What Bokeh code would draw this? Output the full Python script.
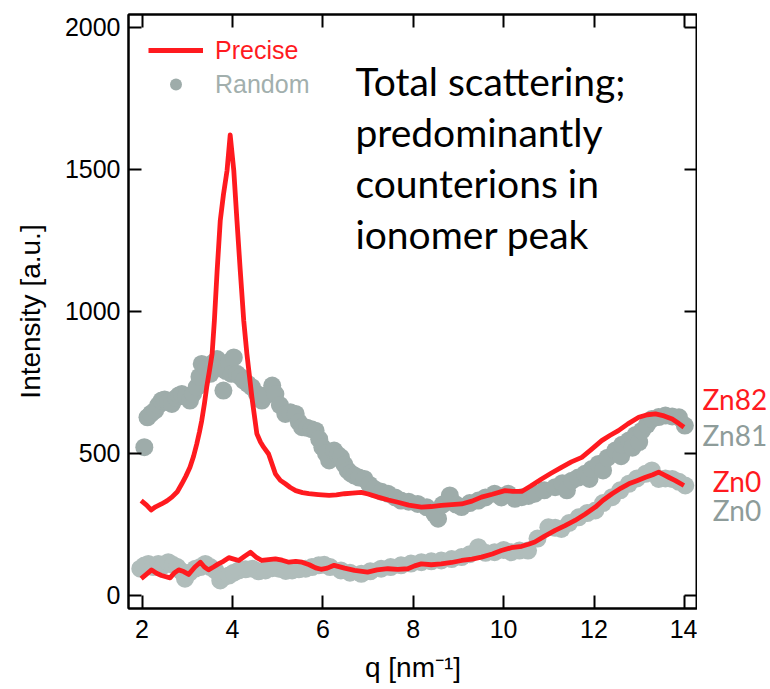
from bokeh.plotting import figure
from bokeh.models import Range1d, LinearAxis, FixedTicker, Legend, LegendItem, Label
from bokeh.layouts import row
from bokeh.embed import file_html
from bokeh.resources import INLINE

# ---------------- data ----------------
precise_zn82_q = [1.98, 2.1, 2.2, 2.3, 2.43, 2.55, 2.66, 2.78, 2.88, 2.97, 3.06, 3.14, 3.21, 3.27, 3.32,
                  3.38, 3.43, 3.49, 3.55, 3.6, 3.66, 3.73, 3.8, 3.88, 3.95, 4.03, 4.10, 4.17, 4.25, 4.32,
                  4.43, 4.54, 4.62, 4.69, 4.80, 4.95, 5.06, 5.17, 5.28, 5.40, 5.55, 5.69, 5.9, 6.14, 6.3,
                  6.48, 6.65, 6.85, 7.0, 7.22, 7.45, 7.66, 7.9, 8.18, 8.4, 8.62, 8.85, 9.07, 9.3, 9.51,
                  9.75, 10.03, 10.2, 10.40, 10.6, 10.84, 11.05, 11.28, 11.5, 11.73, 11.95, 12.17, 12.35,
                  12.54, 12.75, 12.99, 13.18, 13.36, 13.55, 13.73, 13.88, 13.99]
precise_zn82_i = [334, 318, 301, 312, 322, 333, 346, 365, 393, 420, 451, 490, 533, 575, 615,
                  675, 733, 790, 850, 967, 1140, 1319, 1410, 1495, 1621, 1495, 1319, 1150, 967, 850,
                  698, 569, 540, 522, 498, 428, 405, 393, 380, 369, 362, 358, 355, 352, 354,
                  358, 360, 363, 357, 346, 336, 328, 318, 311, 313, 317, 320, 322, 332, 346,
                  356, 369, 366, 366, 385, 410, 430, 451, 470, 486, 515, 545, 563,
                  580, 604, 627, 636, 639, 632, 621, 605, 592]

precise_zn0_q = [1.98, 2.1, 2.21, 2.32, 2.43, 2.62, 2.72, 2.81, 2.92, 3.03, 3.17, 3.29, 3.38, 3.47, 3.58,
                 3.69, 3.8, 3.92, 4.03, 4.14, 4.27, 4.40, 4.52, 4.65, 4.8, 4.95, 5.1, 5.25, 5.4, 5.54,
                 5.7, 5.84, 5.96, 6.1, 6.25, 6.48, 6.70, 6.99, 7.2, 7.44, 7.66, 7.88, 8.03, 8.18, 8.4,
                 8.62, 8.85, 9.07, 9.3, 9.51, 9.75, 9.95, 10.17, 10.40, 10.55, 10.69, 10.9, 11.14, 11.36,
                 11.58, 11.8, 12.03, 12.2, 12.40, 12.6, 12.77, 12.95, 13.14, 13.3, 13.43, 13.55, 13.65,
                 13.8, 13.99]
precise_zn0_i = [59, 75, 90, 78, 70, 62, 80, 90, 84, 74, 100, 117, 100, 90, 100,
                 111, 120, 133, 128, 123, 138, 152, 135, 123, 126, 129, 124, 117, 120, 117,
                 108, 97, 92, 96, 106, 96, 88, 82, 90, 94, 92, 94, 104, 111, 108,
                 111, 116, 123, 128, 135, 146, 158, 168, 173, 180, 188, 208, 229, 246,
                 264, 286, 311, 335, 358, 378, 393, 404, 416, 425, 434, 424, 416,
                 404, 387]

random_zn81_q = [2.05, 2.12, 2.2, 2.29, 2.36, 2.43, 2.5, 2.58, 2.66, 2.75, 2.82, 2.88, 2.97, 3.06, 3.13,
                 3.21, 3.27, 3.32, 3.42, 3.51, 3.58, 3.66, 3.73, 3.80, 3.86, 3.92, 3.98, 4.03, 4.10, 4.17,
                 4.25, 4.34, 4.43, 4.54, 4.65, 4.75, 4.88, 4.95, 5.05, 5.17, 5.28, 5.40, 5.47, 5.54, 5.65,
                 5.75, 5.84, 5.92, 5.99, 6.07, 6.14, 6.25, 6.33, 6.40, 6.48, 6.55, 6.62, 6.70, 6.8, 6.92,
                 7.03, 7.14, 7.3, 7.44, 7.6, 7.73, 7.9, 8.10, 8.3, 8.47, 8.55, 8.65, 8.81, 8.95, 9.07,
                 9.25, 9.44, 9.6, 9.80, 9.95, 10.10, 10.25, 10.40, 10.55, 10.69, 10.9, 11.14, 11.3, 11.4,
                 11.51, 11.65, 11.80, 11.9, 11.95, 12.10, 12.2, 12.3, 12.47, 12.6, 12.62, 12.77, 12.85,
                 12.92, 13.0, 13.06, 13.17, 13.28, 13.43, 13.58, 13.73, 13.88, 14.01]
random_zn81_i = [522, 627, 640, 651, 670, 686, 690, 680, 674, 695, 705, 709, 700, 686, 710,
                 733, 770, 815, 800, 780, 820, 832, 800, 721, 790, 821, 780, 838, 780, 770,
                 756, 745, 733, 710, 686, 705, 739, 709, 670, 639, 645, 639, 610, 592, 590,
                 585, 580, 550, 522, 500, 475, 510, 495, 486, 460, 440, 430, 422, 415, 410,
                 390, 375, 365, 358, 345, 334, 330, 322, 310, 287, 270, 320, 352, 320, 311,
                 325, 334, 345, 358, 345, 358, 340, 346, 350, 358, 370, 381, 395, 370,
                 404, 415, 428, 410, 445, 463, 440, 485, 510, 490, 530, 545, 520,
                 565, 540, 580, 600, 621, 628, 633, 630, 627, 598]

random_zn0_q = [1.96, 2.05, 2.14, 2.25, 2.36, 2.47, 2.58, 2.68, 2.78, 2.87, 2.95, 3.05, 3.18, 3.29, 3.40,
                3.51, 3.62, 3.73, 3.82, 3.92, 4.03, 4.14, 4.29, 4.44, 4.58, 4.73, 4.88, 5.03, 5.18, 5.32,
                5.47, 5.62, 5.76, 5.91, 6.03, 6.16, 6.40, 6.6, 6.85, 7.05, 7.29, 7.5, 7.73, 7.95, 8.18,
                8.4, 8.62, 8.85, 9.07, 9.25, 9.44, 9.6, 9.80, 10.0, 10.17, 10.35, 10.54, 10.75, 10.99,
                11.14, 11.28, 11.45, 11.66, 11.85, 12.03, 12.2, 12.40, 12.58, 12.77, 12.95, 13.14, 13.28,
                13.43, 13.58, 13.73, 13.88, 14.02]
random_zn0_i = [94, 105, 111, 100, 111, 105, 117, 108, 100, 85, 59, 80, 94, 100, 111,
                100, 88, 53, 65, 70, 80, 88, 92, 94, 85, 88, 96, 94, 86, 88,
                92, 94, 100, 106, 108, 100, 88, 80, 76, 85, 94, 100, 106, 112, 117,
                120, 123, 128, 135, 145, 170, 150, 152, 160, 152, 158, 158, 200, 240,
                238, 234, 255, 275, 290, 299, 325, 346, 370, 393, 412, 428, 440,
                410, 412, 410, 400, 387]

x_ticks = [2, 4, 6, 8, 10, 12, 14]
y_ticks = [0, 500, 1000, 1500, 2000]

side_names = ["Zn82", "Zn81", "Zn0", "Zn0"]

RED = "#ff1a1f"
GREY_HI = "#9eacaa"
GREY_LO = "#b0bdbb"
GREY_TXT = "#8e9c9a"

MAIN_W = 697
FONT = "Liberation Sans"

# ---------------- main figure ----------------
p = figure(width=MAIN_W, height=689, output_backend="svg", toolbar_location=None,
           x_range=Range1d(1.70, 14.29), y_range=Range1d(-46, 2045),
           min_border_left=128, min_border_right=0, min_border_top=14, min_border_bottom=81)
p.background_fill_color = "white"
p.border_fill_color = "white"
p.grid.visible = False
p.outline_line_color = "black"
p.outline_line_width = 2


def style_axis(ax, show_labels=True):
    ax.axis_line_width = 2
    ax.axis_line_color = "black"
    ax.major_tick_in = 13
    ax.major_tick_out = 0
    ax.major_tick_line_width = 2
    ax.major_tick_line_color = "black"
    ax.minor_tick_line_color = None
    ax.major_label_text_font = FONT
    ax.major_label_text_color = "black"
    if show_labels:
        ax.major_label_text_font_size = "25px"
    else:
        ax.major_label_text_font_size = "0px"
        ax.major_label_text_alpha = 0
        ax.major_label_standoff = 0


p.xaxis.ticker = FixedTicker(ticks=x_ticks)
p.yaxis.ticker = FixedTicker(ticks=y_ticks)
style_axis(p.xaxis[0])
style_axis(p.yaxis[0])
p.xaxis.major_label_standoff = 11
p.yaxis.major_label_standoff = 8
p.xaxis.axis_label = "q [nm\u207b\u00b9]"
p.yaxis.axis_label = "Intensity [a.u.]"
for ax in (p.xaxis[0], p.yaxis[0]):
    ax.axis_label_text_font = FONT
    ax.axis_label_text_font_style = "normal"
    ax.axis_label_text_font_size = "28px"
    ax.axis_label_text_color = "black"
p.xaxis.axis_label_standoff = 11
p.yaxis.axis_label_standoff = 16

top_ax = LinearAxis(ticker=FixedTicker(ticks=x_ticks))
style_axis(top_ax, show_labels=False)
p.add_layout(top_ax, "above")
right_ax = LinearAxis(ticker=FixedTicker(ticks=y_ticks))
style_axis(right_ax, show_labels=False)
p.add_layout(right_ax, "right")

# ---------------- series ----------------
r_rand_hi = p.scatter(random_zn81_q, random_zn81_i, size=18, fill_color=GREY_HI, line_color=None)
r_rand_lo = p.scatter(random_zn0_q, random_zn0_i, size=18, fill_color=GREY_LO, line_color=None)
r_prec_hi = p.line(precise_zn82_q, precise_zn82_i, line_color=RED, line_width=4.8, line_join="round")
r_prec_lo = p.line(precise_zn0_q, precise_zn0_i, line_color=RED, line_width=4.8, line_join="round")


# ---------------- legends ----------------
def make_legend(label, renderer, color, loc):
    lg = Legend(items=[LegendItem(label=label, renderers=[renderer])], location=loc,
                orientation="vertical", glyph_width=55, glyph_height=30, label_standoff=12,
                label_text_font=FONT, label_text_font_size="25px", label_text_color=color,
                padding=0, margin=0, spacing=0, border_line_color=None, background_fill_alpha=0)
    p.add_layout(lg, "center")


make_legend("Precise", r_prec_hi, RED, (20, 543))
make_legend("Random", r_rand_hi, "#a2afad", (20, 509))

# ---------------- annotation text ----------------
note_lines = ["Total scattering;", "predominantly", "counterions in", "ionomer peak"]
note_y = [1812, 1632, 1453, 1273]
for t, yy in zip(note_lines, note_y):
    p.add_layout(Label(x=6.72, y=yy, text=t, text_font="Lato", text_font_size="39px",
                       text_color="black", text_baseline="alphabetic"))

# ---------------- side panel with curve names ----------------
side = figure(width=770 - MAIN_W, height=689, output_backend="svg", toolbar_location=None,
              x_range=Range1d(0, 1), y_range=p.y_range,
              x_axis_location=None, y_axis_location=None,
              min_border_left=0, min_border_right=0, min_border_top=14, min_border_bottom=81)
side.grid.visible = False
side.outline_line_color = None
side.background_fill_color = "white"
side.border_fill_color = "white"

side_x = [0.07, 0.07, 0.21, 0.21]
side_y = [690, 565, 404, 299]
side_colors = [RED, GREY_TXT, RED, GREY_TXT]
for t, xx, yy, c in zip(side_names, side_x, side_y, side_colors):
    side.add_layout(Label(x=xx, y=yy, text=t, text_font="Lato", text_font_size="28px",
                          text_color=c, text_baseline="middle"))

layout = row(p, side, spacing=0)
open("out.html", "w").write(file_html(layout, INLINE))
